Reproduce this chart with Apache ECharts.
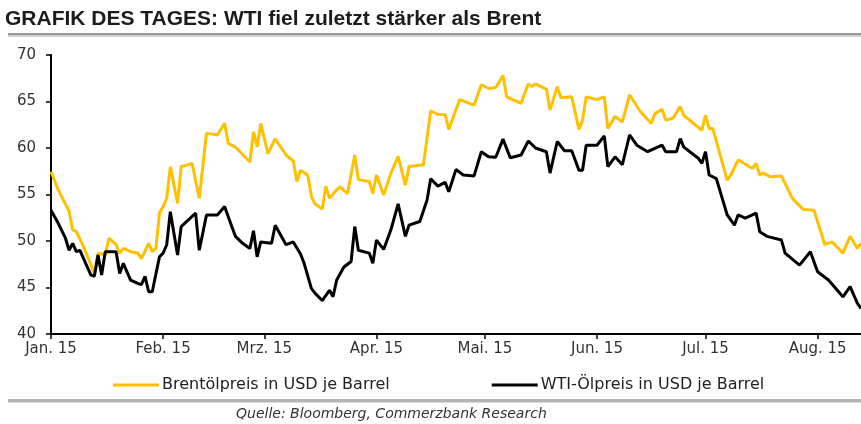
<!DOCTYPE html>
<html>
<head>
<meta charset="utf-8">
<script src="https://cdn.jsdelivr.net/npm/echarts@6.0.0/dist/echarts.min.js"></script>
<style>
  html, body { margin: 0; padding: 0; background: #fff; }
  #chart { width: 861px; height: 424px; }
</style>
</head>
<body>
<div id="chart"></div>
<script>
// Tage seit 1. Jan. 2015 und Kurse
const brentDay = [0, 2, 5, 6, 7, 9, 12, 13, 15, 16, 18, 19, 20, 22, 24, 25, 27, 28, 29, 30,
  31, 32, 33, 35, 36, 38, 39, 41, 43, 46, 48, 49, 51, 55, 56, 57, 58, 60, 62, 63,
  65, 67, 68, 69, 71, 72, 73, 75, 76, 77, 79, 80, 82, 84, 85, 88, 89, 90, 92, 94,
  96, 98, 99, 103, 105, 107, 109, 110, 113, 117, 119, 121, 123, 125, 126, 130, 132, 133, 134, 137,
  138, 140, 141, 144, 146, 147, 148, 151, 153, 154, 156, 158, 160, 163, 166, 167, 169, 170, 172, 174,
  175, 176, 180, 181, 182, 183, 187, 188, 190, 191, 194, 195, 196, 197, 199, 202, 205, 208, 211, 214,
  216, 219, 221, 223, 224];
const brentValue = [57.45, 55.5, 53.2, 51.2, 51.0, 49.4, 46.5, 48.7, 48.5, 50.3, 49.6, 48.7, 49.2, 48.85, 48.7, 48.1, 49.75, 48.85, 49.2, 53.0,
  53.7, 54.6, 58.0, 54.05, 58.0, 58.2, 58.35, 54.6, 61.6, 61.4, 62.65, 60.5, 60.1, 58.5, 61.75, 60.1, 62.65, 59.4, 61.0, 60.4,
  59.25, 58.6, 56.4, 57.6, 57.1, 54.8, 54.0, 53.45, 55.9, 54.6, 55.5, 55.8, 55.1, 59.25, 56.6, 56.4, 55.1, 57.1, 54.95, 57.3,
  59.1, 56.0, 58.0, 58.2, 64.0, 63.6, 63.6, 62.0, 65.2, 64.6, 66.8, 66.4, 66.5, 67.8, 65.5, 64.8, 66.9, 66.6, 66.9, 66.3,
  64.1, 66.6, 65.4, 65.5, 62.0, 63.0, 65.5, 65.2, 65.5, 62.1, 63.4, 62.8, 65.7, 63.9, 62.65, 63.7, 64.15, 63.0, 63.2, 64.45,
  63.5, 63.2, 61.9, 63.5, 62.1, 62.1, 56.55, 57.1, 58.7, 58.5, 57.8, 58.35, 57.1, 57.3, 56.9, 57.0, 54.6, 53.4, 53.3, 49.6,
  49.9, 48.7, 50.5, 49.2, 49.75];

const wtiDay = [0, 2, 4, 5, 6, 7, 8, 11, 12, 13, 14, 15, 18, 19, 20, 22, 24, 25, 26, 27,
  28, 30, 31, 32, 33, 35, 36, 40, 41, 43, 46, 48, 50, 51, 53, 55, 56, 57, 58, 61,
  62, 65, 67, 69, 70, 72, 73, 75, 77, 78, 79, 81, 83, 84, 85, 88, 89, 90, 92, 94,
  96, 98, 99, 102, 104, 105, 107, 109, 110, 112, 114, 117, 119, 121, 123, 125, 127, 130, 132, 134,
  137, 138, 140, 142, 144, 146, 147, 148, 151, 153, 154, 156, 158, 160, 162, 165, 167, 169, 170, 173,
  174, 175, 179, 180, 181, 182, 184, 187, 189, 190, 192, 195, 196, 198, 202, 203, 207, 210, 212, 215,
  219, 221, 223, 224];
const wtiValue = [53.3, 51.9, 50.3, 49.0, 49.75, 48.85, 49.0, 46.35, 46.2, 48.5, 46.35, 48.85, 48.85, 46.5, 47.6, 45.8, 45.45, 45.3, 46.2, 44.55,
  44.55, 48.3, 48.7, 49.6, 53.15, 48.5, 51.55, 53.0, 49.0, 52.8, 52.8, 53.7, 51.55, 50.5, 49.75, 49.2, 51.1, 48.3, 49.9, 49.75,
  51.7, 49.6, 49.9, 48.6, 47.6, 44.9, 44.4, 43.6, 44.7, 44.0, 45.8, 47.2, 47.8, 51.55, 49.0, 48.7, 47.6, 50.1, 49.1, 51.2,
  54.0, 50.5, 51.7, 52.1, 54.4, 56.7, 55.9, 56.3, 55.3, 57.7, 57.1, 57.0, 59.6, 59.05, 59.0, 60.95, 58.95, 59.25, 60.75, 60.0,
  59.6, 57.3, 60.7, 59.7, 59.7, 57.6, 57.6, 60.3, 60.3, 61.3, 58.0, 59.05, 58.2, 61.4, 60.3, 59.6, 59.95, 60.3, 59.6, 59.6,
  61.0, 60.1, 58.9, 58.35, 59.6, 57.1, 56.7, 52.8, 51.7, 52.8, 52.45, 53.0, 51.0, 50.5, 50.1, 48.7, 47.4, 48.85, 46.7, 45.8,
  44.0, 45.1, 43.3, 42.75];

// Monatsanfänge (Tag seit 1. Jan.) und Beschriftungen
const monthStartDay = [0, 31, 59, 90, 120, 151, 181, 212];
const monthLabels = ["Jan. 15", "Feb. 15", "Mrz. 15", "Apr. 15", "Mai. 15", "Jun. 15", "Jul. 15", "Aug. 15"];
const yTicks = [40, 45, 50, 55, 60, 65, 70];

const chart = echarts.init(document.getElementById("chart"));
const titleFont = "'Liberation Sans', Arial, sans-serif";
const font = "'DejaVu Sans', Verdana, sans-serif";

const option = {
  animation: false,
  backgroundColor: "#fff",
  textStyle: { fontFamily: font },
  title: [
    {
      text: "GRAFIK DES TAGES: WTI fiel zuletzt stärker als Brent",
      left: 5,
      top: 9,
      padding: 0,
      textStyle: { fontFamily: titleFont, fontSize: 21, fontWeight: "bold", color: "#1c1c1c" },
    },
    {
      text: "Quelle: Bloomberg, Commerzbank Research",
      left: 236,
      top: 407,
      padding: 0,
      textStyle: { fontFamily: font, fontSize: 14, fontStyle: "italic", fontWeight: "normal", color: "#333" },
    },
  ],
  graphic: [
    { type: "rect", shape: { x: 8, y: 33, width: 853, height: 2 }, style: { fill: "#9a9a9a" } },
    { type: "rect", shape: { x: 8, y: 35, width: 853, height: 2 }, style: { fill: "#cfcfcf" } },
    { type: "rect", shape: { x: 8, y: 399, width: 853, height: 3 }, style: { fill: "#b4b4b4" } },
    { type: "rect", shape: { x: 8, y: 402, width: 853, height: 1 }, style: { fill: "#dcdcdc" } },
  ],
  legend: {
    left: 113,
    top: 377,
    padding: 0,
    icon: "rect",
    itemWidth: 46,
    itemHeight: 3,
    itemGap: 102,
    textStyle: { fontFamily: font, fontSize: 16, color: "#222", padding: [0, 0, 0, -2] },
    data: ["Brentölpreis in USD je Barrel", "WTI-Ölpreis in USD je Barrel"],
  },
  grid: { left: 51, top: 55, right: 0, bottom: 90 },
  xAxis: {
    type: "value",
    min: 0,
    max: 224,
    axisLine: { lineStyle: { color: "#000", width: 2 } },
    axisTick: { show: true, length: 5, lineStyle: { color: "#000", width: 1.5 }, customValues: monthStartDay },
    axisLabel: {
      customValues: monthStartDay,
      fontSize: 15,
      color: "#333",
      margin: 8,
      formatter: (v) => monthLabels[monthStartDay.indexOf(v)],
    },
    splitLine: { show: false },
  },
  yAxis: {
    type: "value",
    min: yTicks[0],
    max: yTicks[yTicks.length - 1],
    interval: 5,
    axisLine: { show: true, lineStyle: { color: "#000", width: 2 } },
    axisTick: { show: true, length: 5, lineStyle: { color: "#000", width: 1.5 } },
    axisLabel: { fontSize: 15, color: "#333", margin: 15 },
    splitLine: { show: false },
  },
  series: [
    {
      name: "Brentölpreis in USD je Barrel",
      type: "line",
      showSymbol: false,
      color: "#FFC000",
      lineStyle: { width: 3, color: "#FFC000" },
      data: brentDay.map((d, i) => [d, brentValue[i]]),
    },
    {
      name: "WTI-Ölpreis in USD je Barrel",
      type: "line",
      showSymbol: false,
      color: "#000",
      lineStyle: { width: 3, color: "#000" },
      data: wtiDay.map((d, i) => [d, wtiValue[i]]),
    },
  ],
};

chart.setOption(option);
</script>
</body>
</html>
